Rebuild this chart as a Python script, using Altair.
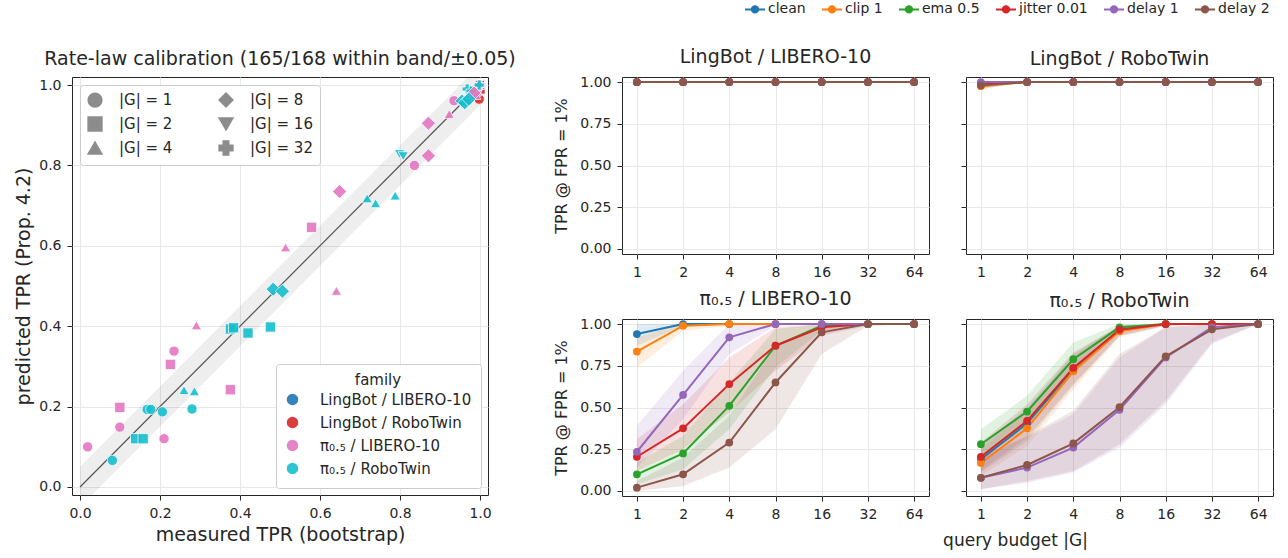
import altair as alt
import pandas as pd

FONT = "DejaVu Sans"

# ---------------- left panel: calibration scatter ----------------
FAMILIES = ["LingBot / LIBERO-10", "LingBot / RoboTwin", "π₀.₅ / LIBERO-10", "π₀.₅ / RoboTwin"]
FAMILY_COLORS = ["#1f77b4", "#d62728", "#e377c2", "#17becf"]

G_ORDER = ["|G| = 1", "|G| = 2", "|G| = 4", "|G| = 8", "|G| = 16", "|G| = 32"]
G_SHAPES = ["circle", "square", "triangle-up", "diamond", "triangle-down", "cross"]

MEASURED = [
    1.0, 1.0, 1.0, 1.0, 1.0, 1.0,
    0.998, 1.0, 1.0, 1.0, 1.0, 1.0,
    0.019, 0.0995, 0.21, 0.235, 0.836, 0.935,
    0.0995, 0.226, 0.376, 0.579, 0.99,
    0.291, 0.514, 0.641, 0.923, 0.99,
    0.649, 0.871, 0.871, 0.985,
    1.0, 1.0,
    0.081, 0.168, 0.177, 0.206, 0.280,
    0.139, 0.158, 0.376, 0.384, 0.420, 0.476,
    0.26, 0.286, 0.718, 0.739, 0.788,
    0.483, 0.506, 0.955, 0.962, 0.972,
    0.799, 0.808,
    0.968, 0.978, 0.998,
]
PREDICTED = [
    1.0, 1.0, 1.0, 1.0, 1.0, 1.0,
    0.965, 0.99, 1.0, 1.0, 1.0, 1.0,
    0.10, 0.149, 0.12, 0.338, 0.80, 0.961,
    0.198, 0.305, 0.242, 0.646, 0.985,
    0.402, 0.596, 0.488, 0.928, 0.975,
    0.735, 0.905, 0.824, 0.98,
    0.99, 1.0,
    0.066, 0.193, 0.193, 0.187, 0.194,
    0.12, 0.12, 0.393, 0.396, 0.383, 0.398,
    0.241, 0.238, 0.718, 0.706, 0.725,
    0.492, 0.487, 0.96, 0.956, 0.965,
    0.828, 0.823,
    0.99, 0.985, 1.0,
]
FAMILY = (
    [FAMILIES[0]] * 6 + [FAMILIES[1]] * 6 + [FAMILIES[2]] * 22 + [FAMILIES[3]] * 26
)
GROUP = [
    1, 2, 4, 8, 16, 32,
    1, 2, 4, 8, 16, 32,
    1, 1, 1, 1, 1, 1,
    2, 2, 2, 2, 2,
    4, 4, 4, 4, 4,
    8, 8, 8, 8,
    16, 32,
    1, 1, 1, 1, 1,
    2, 2, 2, 2, 2, 2,
    4, 4, 4, 4, 4,
    8, 8, 8, 8, 8,
    16, 16,
    32, 32, 32,
]
DIAG_X = [0.0, 1.0]
BAND_HALF = 0.05

scatter_df = pd.DataFrame({
    "measured": MEASURED,
    "predicted": PREDICTED,
    "family": FAMILY,
    "G": [f"|G| = {g}" for g in GROUP],
    "gnum": GROUP,
    "lingbot": [f.startswith("LingBot") for f in FAMILY],
    "order": list(range(len(MEASURED))),
})
diag_df = pd.DataFrame({"x": DIAG_X, "y": DIAG_X,
                        "lo": [v - BAND_HALF for v in DIAG_X],
                        "hi": [v + BAND_HALF for v in DIAG_X]})

lx = alt.Scale(domain=[-0.02, 1.02], nice=False, zero=False)
ly = alt.Scale(domain=[-0.02, 1.02], nice=False, zero=False)
TICKS01 = [0.0, 0.2, 0.4, 0.6, 0.8, 1.0]

band = alt.Chart(diag_df).mark_area(color="#000000", opacity=0.065, clip=True).encode(
    x=alt.X("x:Q", scale=lx, axis=alt.Axis(values=TICKS01, format=".1f",
                                           title="measured TPR (bootstrap)",
                                           titleFontSize=19, titlePadding=5)),
    y=alt.Y("lo:Q", scale=ly, axis=alt.Axis(values=TICKS01, format=".1f",
                                            title="predicted TPR (Prop. 4.2)",
                                            titleFontSize=19, titlePadding=5)),
    y2="hi:Q",
)
diag = alt.Chart(diag_df).mark_line(color="#555555", strokeWidth=1.2, clip=True).encode(
    x=alt.X("x:Q", scale=lx), y=alt.Y("y:Q", scale=ly)
)

FAMILY_LEGEND = alt.Legend(orient="bottom-right", title="family", titleAnchor="middle",
                           symbolType="circle", symbolSize=170, labelFontSize=15,
                           titleFontSize=15, fillColor="white", strokeColor="#cccccc",
                           padding=9, offset=7, cornerRadius=3, rowPadding=2,
                           labelOffset=20, titlePadding=4)
SHAPE_LEGEND = alt.Legend(orient="top-left", title=None, columns=2, symbolSize=190,
                          symbolFillColor="#808080", symbolStrokeColor="#808080",
                          labelFontSize=15, fillColor="white", strokeColor="#cccccc",
                          padding=7, offset=8, cornerRadius=3, columnPadding=43,
                          rowPadding=4, labelOffset=16)


def scatter_layer(size, cond):
    return alt.Chart(scatter_df).transform_filter(cond).mark_point(
        filled=True, size=size, opacity=0.9, stroke="white", strokeWidth=0.8
    ).encode(
        x=alt.X("measured:Q", scale=lx),
        y=alt.Y("predicted:Q", scale=ly),
        color=alt.Color("family:N", scale=alt.Scale(domain=FAMILIES, range=FAMILY_COLORS),
                        legend=FAMILY_LEGEND),
        shape=alt.Shape("G:N", scale=alt.Scale(domain=G_ORDER, range=G_SHAPES),
                        legend=SHAPE_LEGEND),
        order="order:Q",
    )


lingbot_pts = scatter_layer(105, "datum.lingbot")
pi_other = scatter_layer(105, "!datum.lingbot && datum.gnum != 8")
pi_diamonds = scatter_layer(200, "!datum.lingbot && datum.gnum == 8")

left = alt.layer(band, diag, lingbot_pts, pi_other, pi_diamonds).properties(
    width=416, height=418,
    title=alt.TitleParams("Rate-law calibration (165/168 within band/±0.05)", fontSize=19),
)

# ---------------- right panels: TPR vs query budget ----------------
G_VALUES = [1, 2, 4, 8, 16, 32, 64]
SERIES = ["clean", "clip 1", "ema 0.5", "jitter 0.01", "delay 1", "delay 2"]
SERIES_COLORS = ["#1f77b4", "#ff7f0e", "#2ca02c", "#d62728", "#9467bd", "#8c564b"]

LB_LIB_MEAN = {s: [1.0, 1.0, 1.0, 1.0, 1.0, 1.0, 1.0] for s in SERIES}
LB_LIB_LO = {s: [0.995, 1.0, 1.0, 1.0, 1.0, 1.0, 1.0] for s in SERIES}
LB_LIB_HI = {s: [1.0, 1.0, 1.0, 1.0, 1.0, 1.0, 1.0] for s in SERIES}

LB_RT_MEAN = {
    "clean":       [0.99, 1.0, 1.0, 1.0, 1.0, 1.0, 1.0],
    "clip 1":      [0.975, 1.0, 1.0, 1.0, 1.0, 1.0, 1.0],
    "ema 0.5":     [0.99, 1.0, 1.0, 1.0, 1.0, 1.0, 1.0],
    "jitter 0.01": [0.985, 1.0, 1.0, 1.0, 1.0, 1.0, 1.0],
    "delay 1":     [1.0, 1.0, 1.0, 1.0, 1.0, 1.0, 1.0],
    "delay 2":     [0.98, 1.0, 1.0, 1.0, 1.0, 1.0, 1.0],
}
LB_RT_LO = {
    "clean":       [0.97, 1.0, 1.0, 1.0, 1.0, 1.0, 1.0],
    "clip 1":      [0.955, 1.0, 1.0, 1.0, 1.0, 1.0, 1.0],
    "ema 0.5":     [0.97, 1.0, 1.0, 1.0, 1.0, 1.0, 1.0],
    "jitter 0.01": [0.965, 1.0, 1.0, 1.0, 1.0, 1.0, 1.0],
    "delay 1":     [0.99, 1.0, 1.0, 1.0, 1.0, 1.0, 1.0],
    "delay 2":     [0.96, 1.0, 1.0, 1.0, 1.0, 1.0, 1.0],
}
LB_RT_HI = {s: [1.0, 1.0, 1.0, 1.0, 1.0, 1.0, 1.0] for s in SERIES}

PI_LIB_MEAN = {
    "clean":       [0.94, 1.0, 1.0, 1.0, 1.0, 1.0, 1.0],
    "clip 1":      [0.835, 0.99, 1.0, 1.0, 1.0, 1.0, 1.0],
    "ema 0.5":     [0.10, 0.225, 0.51, 0.87, 0.99, 1.0, 1.0],
    "jitter 0.01": [0.205, 0.375, 0.64, 0.87, 0.98, 1.0, 1.0],
    "delay 1":     [0.235, 0.575, 0.92, 1.0, 1.0, 1.0, 1.0],
    "delay 2":     [0.02, 0.10, 0.29, 0.65, 0.95, 1.0, 1.0],
}
PI_LIB_LO = {
    "clean":       [0.87, 0.99, 1.0, 1.0, 1.0, 1.0, 1.0],
    "clip 1":      [0.74, 0.96, 0.99, 1.0, 1.0, 1.0, 1.0],
    "ema 0.5":     [0.04, 0.13, 0.37, 0.74, 0.96, 1.0, 1.0],
    "jitter 0.01": [0.12, 0.25, 0.47, 0.72, 0.93, 0.99, 1.0],
    "delay 1":     [0.14, 0.43, 0.82, 0.99, 1.0, 1.0, 1.0],
    "delay 2":     [0.0, 0.03, 0.14, 0.37, 0.82, 0.99, 1.0],
}
PI_LIB_HI = {
    "clean":       [1.0, 1.0, 1.0, 1.0, 1.0, 1.0, 1.0],
    "clip 1":      [0.92, 1.0, 1.0, 1.0, 1.0, 1.0, 1.0],
    "ema 0.5":     [0.17, 0.33, 0.65, 0.97, 1.0, 1.0, 1.0],
    "jitter 0.01": [0.31, 0.52, 0.80, 0.98, 1.0, 1.0, 1.0],
    "delay 1":     [0.39, 0.72, 1.0, 1.0, 1.0, 1.0, 1.0],
    "delay 2":     [0.06, 0.20, 0.45, 0.87, 1.0, 1.0, 1.0],
}

PI_RT_MEAN = {
    "clean":       [0.19, 0.405, 0.73, 0.965, 1.0, 1.0, 1.0],
    "clip 1":      [0.168, 0.375, 0.717, 0.957, 1.0, 1.0, 1.0],
    "ema 0.5":     [0.28, 0.476, 0.789, 0.98, 1.0, 1.0, 1.0],
    "jitter 0.01": [0.205, 0.42, 0.737, 0.966, 1.0, 1.0, 1.0],
    "delay 1":     [0.079, 0.14, 0.26, 0.486, 0.80, 0.98, 1.0],
    "delay 2":     [0.079, 0.156, 0.285, 0.502, 0.806, 0.968, 1.0],
}
PI_RT_LO = {
    "clean":       [0.11, 0.30, 0.63, 0.93, 0.99, 1.0, 1.0],
    "clip 1":      [0.09, 0.27, 0.61, 0.92, 0.99, 1.0, 1.0],
    "ema 0.5":     [0.19, 0.38, 0.70, 0.95, 1.0, 1.0, 1.0],
    "jitter 0.01": [0.12, 0.32, 0.64, 0.93, 0.99, 1.0, 1.0],
    "delay 1":     [0.01, 0.05, 0.11, 0.26, 0.52, 0.88, 1.0],
    "delay 2":     [0.01, 0.06, 0.12, 0.28, 0.54, 0.89, 1.0],
}
PI_RT_HI = {
    "clean":       [0.27, 0.50, 0.82, 0.99, 1.0, 1.0, 1.0],
    "clip 1":      [0.25, 0.48, 0.81, 0.99, 1.0, 1.0, 1.0],
    "ema 0.5":     [0.37, 0.57, 0.89, 1.0, 1.0, 1.0, 1.0],
    "jitter 0.01": [0.29, 0.52, 0.83, 0.99, 1.0, 1.0, 1.0],
    "delay 1":     [0.20, 0.32, 0.46, 0.80, 0.98, 1.0, 1.0],
    "delay 2":     [0.21, 0.33, 0.48, 0.82, 0.98, 1.0, 1.0],
}

PANELS = [
    ("LingBot / LIBERO-10", LB_LIB_MEAN, LB_LIB_LO, LB_LIB_HI),
    ("LingBot / RoboTwin", LB_RT_MEAN, LB_RT_LO, LB_RT_HI),
    ("π₀.₅ / LIBERO-10", PI_LIB_MEAN, PI_LIB_LO, PI_LIB_HI),
    ("π₀.₅ / RoboTwin", PI_RT_MEAN, PI_RT_LO, PI_RT_HI),
]

LEGEND_SYMBOL = "M-1.25,0H1.25M-0.4,0A0.4,0.4,0,1,0,0.4,0A0.4,0.4,0,1,0,-0.4,0Z"

TOP_LEGEND = alt.Legend(
    orient="none", direction="horizontal", legendX=124, legendY=-77, title=None,
    symbolType=LEGEND_SYMBOL, symbolSize=256, symbolStrokeWidth=2, labelFontSize=14,
    columnPadding=12, labelOffset=4, symbolOpacity=1,
)


def make_panel(title, mean, lo, hi, show_y, xtitle):
    rows = []
    for s in SERIES:
        for i, g in enumerate(G_VALUES):
            rows.append({"G": g, "series": s, "mean": mean[s][i], "lo": lo[s][i], "hi": hi[s][i]})
    df = pd.DataFrame(rows)
    xs = alt.Scale(type="log", base=2, domain=[0.8, 80], nice=False)
    ys = alt.Scale(domain=[-0.03, 1.03], nice=False, zero=False)
    xaxis_kw = dict(values=G_VALUES, format="d", title=xtitle if xtitle else None)
    if xtitle:
        xaxis_kw.update(titleX=49, titleY=36, titleAlign="center", titleFontSize=17)
    xenc = alt.X("G:Q", scale=xs, axis=alt.Axis(**xaxis_kw))
    yaxis = alt.Axis(values=[0, 0.25, 0.5, 0.75, 1.0], format=".2f",
                     title="TPR @ FPR = 1%" if show_y else None, labels=show_y,
                     titlePadding=10, titleFontSize=16)
    cscale = alt.Scale(domain=SERIES, range=SERIES_COLORS)
    area = alt.Chart(df).mark_area(opacity=0.14).encode(
        x=xenc, y=alt.Y("lo:Q", scale=ys, axis=yaxis), y2="hi:Q",
        color=alt.Color("series:N", scale=cscale, legend=TOP_LEGEND),
    )
    line = alt.Chart(df).mark_line(strokeWidth=2).encode(
        x=alt.X("G:Q", scale=xs), y=alt.Y("mean:Q", scale=ys),
        color=alt.Color("series:N", scale=cscale, legend=TOP_LEGEND),
    )
    pts = alt.Chart(df).mark_point(filled=True, size=60, opacity=1).encode(
        x=alt.X("G:Q", scale=xs), y=alt.Y("mean:Q", scale=ys),
        color=alt.Color("series:N", scale=cscale, legend=TOP_LEGEND),
    )
    return alt.layer(area, line, pts).properties(
        width=307, height=177, title=alt.TitleParams(title, fontSize=19)
    )


p1 = make_panel(PANELS[0][0], *PANELS[0][1:], True, None)
p2 = make_panel(PANELS[1][0], *PANELS[1][1:], False, None)
p3 = make_panel(PANELS[2][0], *PANELS[2][1:], True, None)
p4 = make_panel(PANELS[3][0], *PANELS[3][1:], False, "query budget |G|")

grid = alt.concat(
    p1, p2, p3, p4, columns=2, spacing={"row": 65, "column": 37}, bounds="flush"
).resolve_scale(color="shared")

chart = alt.hconcat(left, grid, spacing=134, bounds="flush").resolve_scale(
    color="independent", shape="independent"
).properties(
    padding={"left": 14, "top": 0, "right": 5, "bottom": 5}
).configure(
    font=FONT
).configure_view(
    stroke="#262626", strokeWidth=1
).configure_axis(
    domain=False, tickColor="#262626", tickSize=5, labelFontSize=14, titleFontSize=16,
    labelColor="#262626", titleColor="#262626", gridColor="#e8e8e8",
    titleFontWeight="normal", labelFont=FONT, titleFont=FONT, labelPadding=6,
).configure_legend(
    labelFont=FONT, titleFont=FONT, titleFontWeight="normal", labelColor="#262626",
    titleColor="#262626",
).configure_title(
    font=FONT, fontSize=19, fontWeight="normal", offset=8, color="#262626"
)

chart.save("out.html", embed_options={"renderer": "svg", "actions": False})
